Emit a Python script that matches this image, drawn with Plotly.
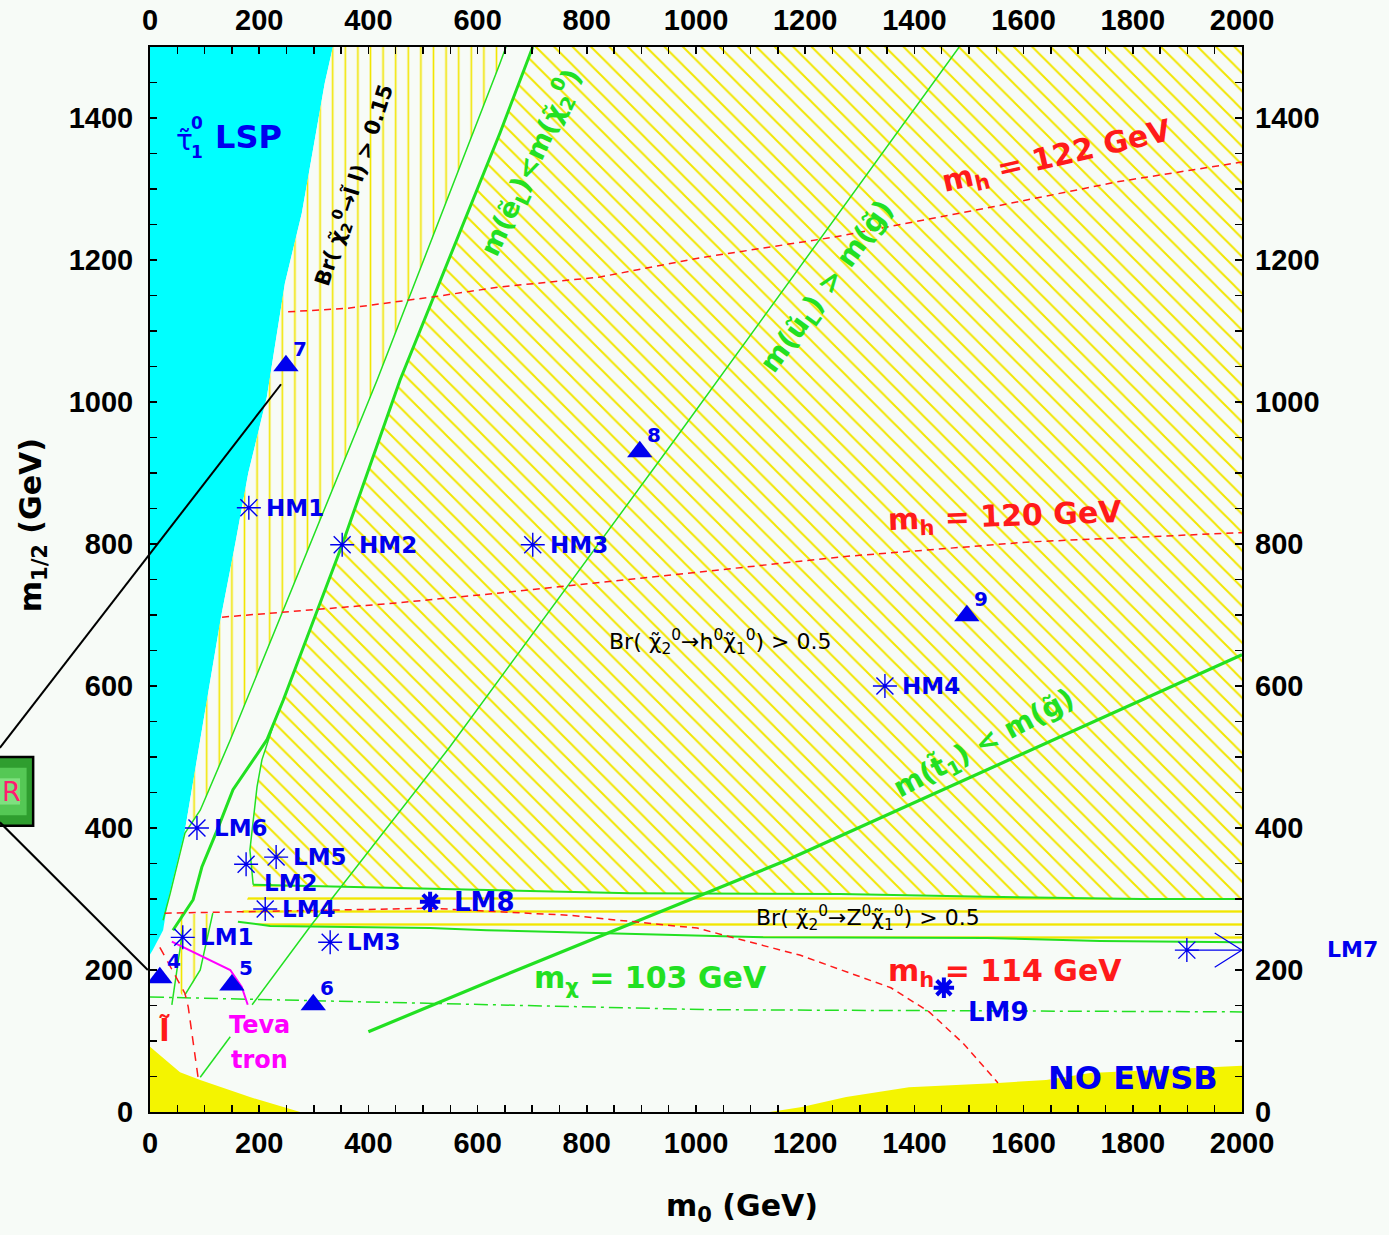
import plotly.graph_objects as go

# ---------------- data (m0, m1/2 in GeV) ----------------
cyan_m0 = [0, 5, 24, 33, 64, 92, 130, 156, 180, 214, 232, 247, 278, 299, 320, 335]
cyan_m12 = [222, 228, 256, 299, 397, 524, 697, 800, 900, 1007, 1097, 1167, 1266, 1355, 1449, 1500]

thin_m0 = [652, 641, 416, 147, 92, 64, 37, 24]
thin_m12 = [1500, 1477, 1031, 524, 425, 393, 308, 270]

thick_m0 = [701, 641, 458, 352, 244, 214, 152, 123, 95, 79, 42]
thick_m12 = [1500, 1379, 1031, 799, 580, 524, 454, 397, 345, 299, 256]

diagl_m0 = [244, 229, 205, 196, 183, 189]
diagl_m12 = [580, 552, 496, 458, 369, 320]

zup_m0 = [189, 513, 879, 1264, 1533, 1817, 2000]
zup_m12 = [320, 314, 308, 307, 303, 300, 300]
zlo_m0 = [161, 220, 513, 617, 1123, 1282, 1533, 1740, 2000]
zlo_m12 = [268, 262, 259, 256, 246, 246, 245, 241, 239]

smallv_m0 = [51, 115, 92, 64, 51]
smallv_m12 = [279, 279, 200, 160, 172]

ylow_m0 = [0, 55, 92, 183, 275, 0]
ylow_m12 = [92, 56, 45, 21, 0, 0]
ewsb_m0 = [1135, 1194, 1275, 1390, 1553, 1641, 1722, 1912, 2000, 2000]
ewsb_m12 = [0, 7, 21, 35, 41, 45, 55, 62, 65, 0]

ul_m0 = [1482, 947, 549, 293, 187]
ul_m12 = [1500, 932, 514, 261, 151]
t1_m0 = [400, 628, 1167, 2000]
t1_m12 = [113, 186, 355, 644]
mchi_m0 = [0, 457, 1030, 2000]
mchi_m12 = [162, 154, 144, 141]

mh122_m0 = [253, 361, 518, 641, 824, 1007, 1251, 1544, 1771, 1993, 2000]
mh122_m12 = [1127, 1132, 1148, 1162, 1176, 1203, 1232, 1275, 1310, 1337, 1338]
mh120_m0 = [132, 342, 452, 641, 1282, 1612, 2000]
mh120_m12 = [697, 710, 717, 731, 783, 803, 816]
mh114_m0 = [27, 513, 769, 1002, 1190, 1357, 1427, 1489, 1553]
mh114_m12 = [280, 287, 277, 259, 221, 175, 141, 97, 41]
slep_m0 = [18, 64, 70, 88]
slep_m12 = [232, 167, 148, 49]
teva_m0 = [40, 147, 168, 179]
teva_m12 = [240, 200, 176, 151]

g1_m0 = [115, 92, 64]
g1_m12 = [280, 200, 165]
g2_m0 = [60, 40]
g2_m12 = [256, 151]
g3_m0 = [92, 147]
g3_m12 = [49, 106]

tri_m0 = [18, 150, 299, 249, 897, 1496]
tri_m12 = [189, 179, 151, 1051, 930, 699]
tri_labels = ["4", "5", "6", "7", "8", "9"]

ast_names = ["LM1", "LM2", "LM3", "LM4", "LM5", "LM6", "HM1", "HM2", "HM3", "HM4"]
ast_m0 = [60, 176, 330, 211, 231, 86, 181, 352, 701, 1346]
ast_m12 = [246, 349, 239, 286, 359, 400, 851, 799, 799, 600]

bold_names = ["LM8", "LM9"]
bold_m0 = [513, 1454]
bold_m12 = [296, 175]

lm7_m0 = 1899
lm7_m12 = 228

callout_box = [-300, -214, 403, 500]          # x0, x1, y0, y1 (data units)
callout_lines = [[-275, 513, 240, 1025], [-275, 408, -4, 200]]

x_ticks = list(range(0, 2001, 200))
y_ticks = list(range(0, 1401, 200))
XMAX, YMAX = 2000, 1500

# ---------------- style ----------------
BG = "#f7fbf7"
CYAN = "#00ffff"
YEL = "#f2e600"
YSOLID = "#f4f400"
GREEN = "#22e022"
BLUE = "#0000ee"
RED = "#ff1a1a"
MAG = "#ff00ff"
TICKFONT = "Liberation Sans"
LFONT = "DejaVu Sans"

fig = go.Figure()


def poly(x, y, **kw):
    fig.add_trace(go.Scatter(x=x, y=y, mode="lines", fill="toself",
                             line=dict(width=0, color="rgba(0,0,0,0)"),
                             hoverinfo="skip", showlegend=False, **kw))


def line(x, y, color, width, dash="solid"):
    fig.add_trace(go.Scatter(x=x, y=y, mode="lines",
                             line=dict(color=color, width=width, dash=dash),
                             hoverinfo="skip", showlegend=False))


# fills
poly(cyan_m0 + [0], cyan_m12 + [YMAX], fillcolor=CYAN)
poly(ylow_m0, ylow_m12, fillcolor=YSOLID)
poly(ewsb_m0, ewsb_m12, fillcolor=YSOLID)

vpat = dict(shape="|", fgcolor=YEL, bgcolor=BG, size=12.6, solidity=0.13, fillmode="replace")
vx = cyan_m0[4:] + thin_m0[:6]
vy = cyan_m12[4:] + thin_m12[:6]
poly(vx, vy, fillcolor=BG, fillpattern=vpat)
poly(smallv_m0, smallv_m12, fillcolor=BG, fillpattern=vpat)

dx = [thick_m0[0], XMAX, XMAX] + zup_m0[::-1][1:] + diagl_m0[::-1][1:] + thick_m0[3::-1]
dy = [thick_m12[0], YMAX, zup_m12[-1]] + zup_m12[::-1][1:] + diagl_m12[::-1][1:] + thick_m12[3::-1]
poly(dx, dy, fillcolor=BG,
     fillpattern=dict(shape="\\", fgcolor=YEL, bgcolor=BG, size=13, solidity=0.15, fillmode="replace"))

zx = zup_m0 + zlo_m0[::-1]
zy = zup_m12 + zlo_m12[::-1]
poly(zx, zy, fillcolor=BG,
     fillpattern=dict(shape="-", fgcolor=YEL, bgcolor=BG, size=13, solidity=0.18, fillmode="replace"))

# lines
line(thin_m0, thin_m12, GREEN, 1.5)
line(thick_m0, thick_m12, GREEN, 3)
line(diagl_m0, diagl_m12, GREEN, 1.5)
line(zup_m0, zup_m12, GREEN, 2)
line(zlo_m0, zlo_m12, GREEN, 2)
line(ul_m0, ul_m12, GREEN, 1.5)
line(t1_m0, t1_m12, GREEN, 3.2)
line(g1_m0, g1_m12, GREEN, 1.5)
line(g2_m0, g2_m12, GREEN, 1.5)
line(g3_m0, g3_m12, GREEN, 1.5)
line(mchi_m0, mchi_m12, GREEN, 1.5, "14px,5px,3px,5px")
line(mh122_m0, mh122_m12, RED, 1.5, "7px,5px")
line(mh120_m0, mh120_m12, RED, 1.5, "7px,5px")
line(mh114_m0, mh114_m12, RED, 1.5, "7px,5px")
line(slep_m0, slep_m12, RED, 1.5, "9px,7px")
line(teva_m0, teva_m12, MAG, 2)

# LM7 arrow (from the LM7 point to the plot edge)
line([lm7_m0, XMAX], [lm7_m12, lm7_m12], BLUE, 1.2)
line([XMAX - 50, XMAX, XMAX - 50], [lm7_m12 + 24, lm7_m12, lm7_m12 - 24], BLUE, 1.2)

# markers
fig.add_trace(go.Scatter(x=tri_m0, y=tri_m12, mode="markers",
                         marker=dict(symbol="triangle-up", size=22, color=BLUE),
                         hoverinfo="skip", showlegend=False))
fig.add_trace(go.Scatter(x=ast_m0 + [lm7_m0], y=ast_m12 + [lm7_m12], mode="markers",
                         marker=dict(symbol="asterisk-open", size=20, color=BLUE,
                                     line=dict(color=BLUE, width=1.4)),
                         hoverinfo="skip", showlegend=False))
fig.add_trace(go.Scatter(x=bold_m0, y=bold_m12, mode="markers",
                         marker=dict(symbol="asterisk-open", size=17, color=BLUE,
                                     line=dict(color=BLUE, width=4)),
                         hoverinfo="skip", showlegend=False))

# dummy traces for top / right label axes
fig.add_trace(go.Scatter(x=[None], y=[None], xaxis="x2", yaxis="y", showlegend=False, hoverinfo="skip"))
fig.add_trace(go.Scatter(x=[None], y=[None], xaxis="x", yaxis="y2", showlegend=False, hoverinfo="skip"))

ann = []


def txt(x, y, s, size, color, angle=0, bold=True, xanchor="center", xshift=0, yshift=0,
        ref="data", family=LFONT):
    ann.append(dict(x=x, y=y, xref="x" if ref == "data" else "paper",
                    yref="y" if ref == "data" else "paper",
                    text=s, showarrow=False,
                    textangle=angle, xanchor=xanchor, yanchor="middle",
                    xshift=xshift, yshift=yshift,
                    font=dict(family=family, size=size, color=color,
                              weight="bold" if bold else "normal")))


# marker labels
ast_shift = {"LM2": (16, -19)}
for n, x, y in zip(ast_names, ast_m0, ast_m12):
    xs, ys = ast_shift.get(n, (15, 0))
    txt(x, y, n, 23, BLUE, xanchor="left", xshift=xs, yshift=ys)
txt(bold_m0[0], bold_m12[0], bold_names[0], 26, BLUE, xanchor="left", xshift=22)
txt(bold_m0[1], bold_m12[1], bold_names[1], 26, BLUE, xanchor="left", xshift=22, yshift=-24)
for l, x, y in zip(tri_labels, tri_m0, tri_m12):
    txt(x, y, l, 20, BLUE, xshift=14, yshift=17)

# region / contour labels
txt(64, 1369, "τ̃", 28, BLUE, bold=False)
txt(86, 1393, "0", 17, BLUE)
txt(86, 1352, "1", 17, BLUE)
txt(181, 1373, "LSP", 32, BLUE)
txt(372, 1306, "Br( χ̃<sub>2</sub><sup>0</sup>→l̃ l) > 0.15", 21, "black", angle=-72)
txt(696, 1338, "m(ẽ<sub>L</sub>)<m(χ̃<sub>2</sub><sup>0</sup>)", 27, GREEN, angle=-65)
txt(1242, 1161, "m(ũ<sub>L</sub>) > m(g̃)", 28, GREEN, angle=-54)
txt(1661, 1344, "m<sub>h</sub> = 122 GeV", 30, RED, angle=-13)
txt(1566, 837, "m<sub>h</sub> = 120 GeV", 30, RED, angle=-2)
txt(1044, 662, "Br( χ̃<sub>2</sub><sup>0</sup>→h<sup>0</sup>χ̃<sub>1</sub><sup>0</sup>) > 0.5", 22,
    "black", bold=False)
txt(1529, 517, "m(t̃<sub>1</sub>) < m(g̃)", 28, GREEN, angle=-28)
txt(1315, 273, "Br( χ̃<sub>2</sub><sup>0</sup>→Z<sup>0</sup>χ̃<sub>1</sub><sup>0</sup>) > 0.5", 22,
    "black", bold=False)
txt(916, 186, "m<sub>χ</sub> = 103 GeV", 30, GREEN)
txt(1566, 197, "m<sub>h</sub> = 114 GeV", 30, RED)
txt(1800, 48, "NO EWSB", 32, BLUE)
txt(201, 123, "Teva", 24, MAG)
txt(201, 73, "tron", 24, MAG)
txt(27, 115, "l̃", 30, RED)


# outside-plot items (paper coordinates derived from data)
def px(x):
    return x / XMAX


def py(y):
    return y / YMAX


txt(px(XMAX) + 0.076, py(lm7_m12) + 0.001, "LM7", 22, BLUE, xanchor="left", ref="paper")
txt(0.542, -0.090, "m<sub>0</sub> (GeV)", 30, "black", ref="paper")
txt(-0.108, 0.551, "m<sub>1/2</sub> (GeV)", 30, "black", angle=-90, ref="paper")
txt(px(-274), py(452), "R", 27, "#ff1a70", bold=False, xanchor="left", ref="paper")

bx0, bx1, by0, by1 = callout_box
shapes = [
    dict(type="rect", xref="paper", yref="paper", x0=px(bx0), x1=px(bx1), y0=py(by0), y1=py(by1),
         fillcolor="#2f9e2f", line=dict(color="black", width=2.5), layer="above"),
    dict(type="rect", xref="paper", yref="paper", x0=px(bx0) + 0.004, x1=px(bx1) - 0.006,
         y0=py(by0) + 0.01, y1=py(by1) - 0.01, fillcolor="#55c855", line=dict(width=0), layer="above"),
    dict(type="rect", xref="paper", yref="paper", x0=px(bx0) + 0.008, x1=px(bx1) - 0.012,
         y0=py(by0) + 0.02, y1=py(by1) - 0.02, fillcolor="#7fe07f", line=dict(width=0), layer="above"),
]
for x0, y0, x1, y1 in callout_lines:
    shapes.append(dict(type="line", xref="paper", yref="paper", x0=px(x0), y0=py(y0), x1=px(x1), y1=py(y1),
                       line=dict(color="black", width=2), layer="above"))

tickfont = dict(family=TICKFONT, size=29, color="black", weight="bold")
common = dict(showgrid=False, zeroline=False, ticks="inside", ticklen=7, tickwidth=1.5,
              tickcolor="black", tickfont=tickfont, fixedrange=True, automargin=False)
fig.update_layout(
    width=1389, height=1235,
    margin=dict(l=150, r=147, t=47, b=123, autoexpand=False),
    paper_bgcolor=BG, plot_bgcolor=BG,
    showlegend=False,
    xaxis=dict(range=[0, XMAX], tickvals=x_ticks, showline=True, linecolor="black", linewidth=2,
               mirror="allticks", minor=dict(dtick=50, ticks="inside", ticklen=5, tickcolor="black"),
               ticklabelstandoff=4, **common),
    yaxis=dict(range=[0, YMAX], tickvals=y_ticks, showline=True, linecolor="black", linewidth=2,
               mirror="allticks", minor=dict(dtick=50, ticks="inside", ticklen=5, tickcolor="black"),
               ticklabelstandoff=9, **common),
    xaxis2=dict(range=[0, XMAX], tickvals=x_ticks, overlaying="x", side="top", anchor="y",
                showline=False, showgrid=False, zeroline=False, ticks="", tickfont=tickfont,
                ticklabelstandoff=10, fixedrange=True, automargin=False),
    yaxis2=dict(range=[0, YMAX], tickvals=y_ticks, overlaying="y", side="right", anchor="x",
                showline=False, showgrid=False, zeroline=False, ticks="", tickfont=tickfont,
                ticklabelstandoff=12, fixedrange=True, automargin=False),
    annotations=ann,
    shapes=shapes,
)

fig.write_html("out.html", config={"displayModeBar": False, "staticPlot": True},
               post_script="document.body.style.margin='0';document.body.style.overflow='hidden';")
